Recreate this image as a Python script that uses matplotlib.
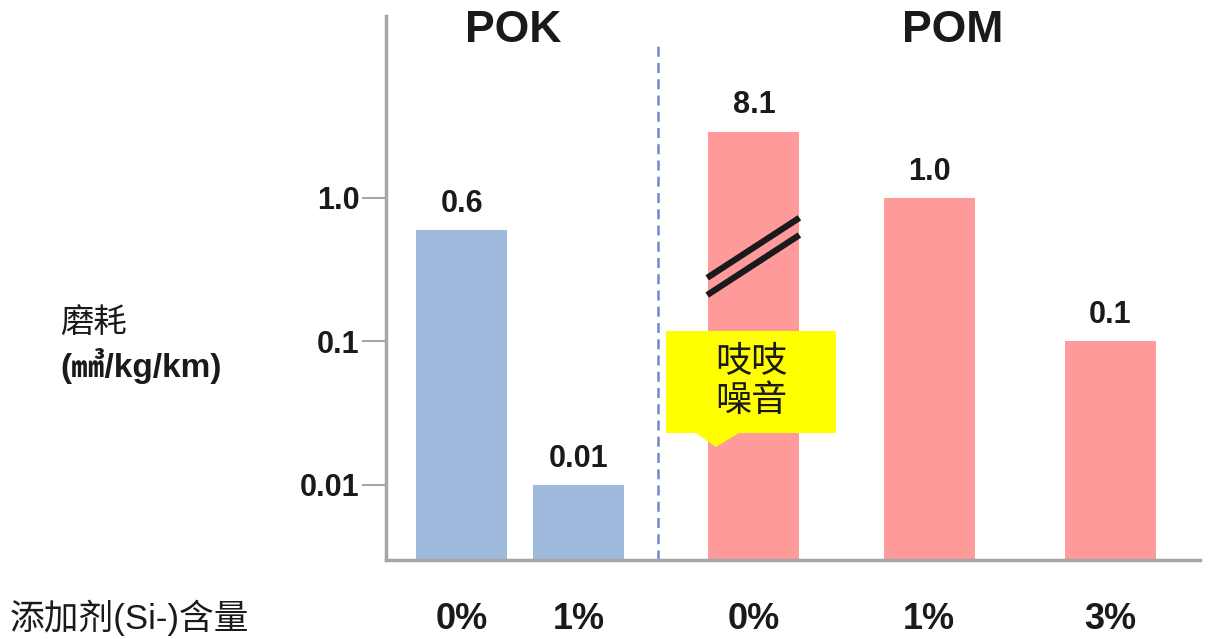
import numpy as np
import matplotlib.pyplot as plt
from matplotlib.patches import Polygon

plt.rcParams['font.family'] = ['Liberation Sans', 'Noto Sans CJK SC', 'DejaVu Sans']

# 磨耗 data (mm3/kg/km), log axis
groups = ["POK", "POM"]
materials = ["POK", "POK", "POM", "POM", "POM"]
additive = ["0%", "1%", "0%", "1%", "3%"]
wear = [0.6, 0.01, 8.1, 1.0, 0.1]
wear_labels = ["0.6", "0.01", "8.1", "1.0", "0.1"]
xpos = [0, 1, 2.5, 4, 5.55]
yticks = [0.01, 0.1, 1.0]
ytick_labels = ["0.01", "0.1", "1.0"]
BREAK_CAP = 2.9   # bars above this are drawn cut with a break mark

colors = {"POK": "#9fb9dc", "POM": "#ff9a9a"}
axis_gray = "#a6a6a6"
ink = "#1a1a1a"

fig = plt.figure(figsize=(12.14, 6.39), dpi=100)
W, H = 1214, 639
ax = fig.add_axes([386 / W, (H - 560) / H, (1200 - 386) / W, (560 - 16) / H])

heights = [min(v, BREAK_CAP) for v in wear]
ax.bar(xpos, heights, width=0.78, color=[colors[m] for m in materials], zorder=2)

ax.set_yscale("log")
ax.set_ylim(0.0030, 18.5)
ax.set_xlim(-0.65, 6.32)

for x, h, lab in zip(xpos, heights, wear_labels):
    ax.annotate(lab, (x, h), xytext=(0, 8), textcoords="offset points",
                ha="center", va="bottom", fontsize=22, fontweight="bold", color=ink)

# break mark on the cut bar
for x, v, h in zip(xpos, wear, heights):
    if v > h:
        for off in (0.0, -0.12):
            xs = np.array([x - 0.4, x + 0.39])
            ys = 10 ** (np.array([-0.557, -0.139]) + off)
            ax.plot(xs, ys, color=ink, lw=4.5, solid_capstyle="butt", zorder=3)

ax.set_yticks(yticks)
ax.set_yticklabels(ytick_labels, fontsize=22, fontweight="bold", color=ink)
ax.yaxis.set_minor_locator(plt.NullLocator())
ax.tick_params(axis="y", length=17, width=1.5, color=axis_gray, pad=2)

ax.set_xticks(xpos)
ax.set_xticklabels(additive, fontsize=26, fontweight="bold", color=ink)
ax.tick_params(axis="x", length=0, pad=30)

for side in ("top", "right"):
    ax.spines[side].set_visible(False)
for side in ("left", "bottom"):
    ax.spines[side].set_color(axis_gray)
    ax.spines[side].set_linewidth(2.5)

# separator between the two materials
ax.axvline(1.68, ymin=0, ymax=0.947, color="#7389c6", lw=1.8, ls=(0, (4, 2.5)), zorder=1)

# group titles
ax.text(0.44, 0.974, groups[0], transform=ax.get_xaxis_transform(), ha="center", va="center",
        fontsize=32, fontweight="bold", color=ink)
ax.text(4.2, 0.974, groups[1], transform=ax.get_xaxis_transform(), ha="center", va="center",
        fontsize=32, fontweight="bold", color=ink)

# y label
fig.text(60 / W, 1 - 322 / H, "磨耗", ha="left", va="center", fontsize=24,
         family=["Noto Sans CJK SC"], color=ink)
fig.text(60 / W, 1 - 366 / H, "(㎣/kg/km)", ha="left", va="center", fontsize=24,
         fontweight="bold", color=ink)

# x label
fig.text(10 / W, 1 - 618 / H, "添加剂(Si-)含量", ha="left", va="center", fontsize=25,
         color=ink)

# callout
bx0, bx1, by0, by1 = 666 / W, 836 / W, 1 - 433 / H, 1 - 331 / H
box = Polygon([(bx0, by0), (bx1, by0), (bx1, by1), (bx0, by1)], closed=True,
              transform=fig.transFigure, facecolor="#ffff00", edgecolor="none", zorder=5)
tip = Polygon([(695 / W, by0 + 0.001), (740 / W, by0 + 0.001), (716 / W, 1 - 447 / H)],
              closed=True, transform=fig.transFigure, facecolor="#ffff00", edgecolor="none", zorder=5)
fig.patches.extend([box, tip])
fig.text((bx0 + bx1) / 2, (by0 + by1) / 2, "吱吱\n噪音", ha="center", va="center",
         fontsize=26, family=["Noto Sans CJK SC"], color=ink, linespacing=1.1, zorder=6)

fig.savefig("out.png", dpi=100)
